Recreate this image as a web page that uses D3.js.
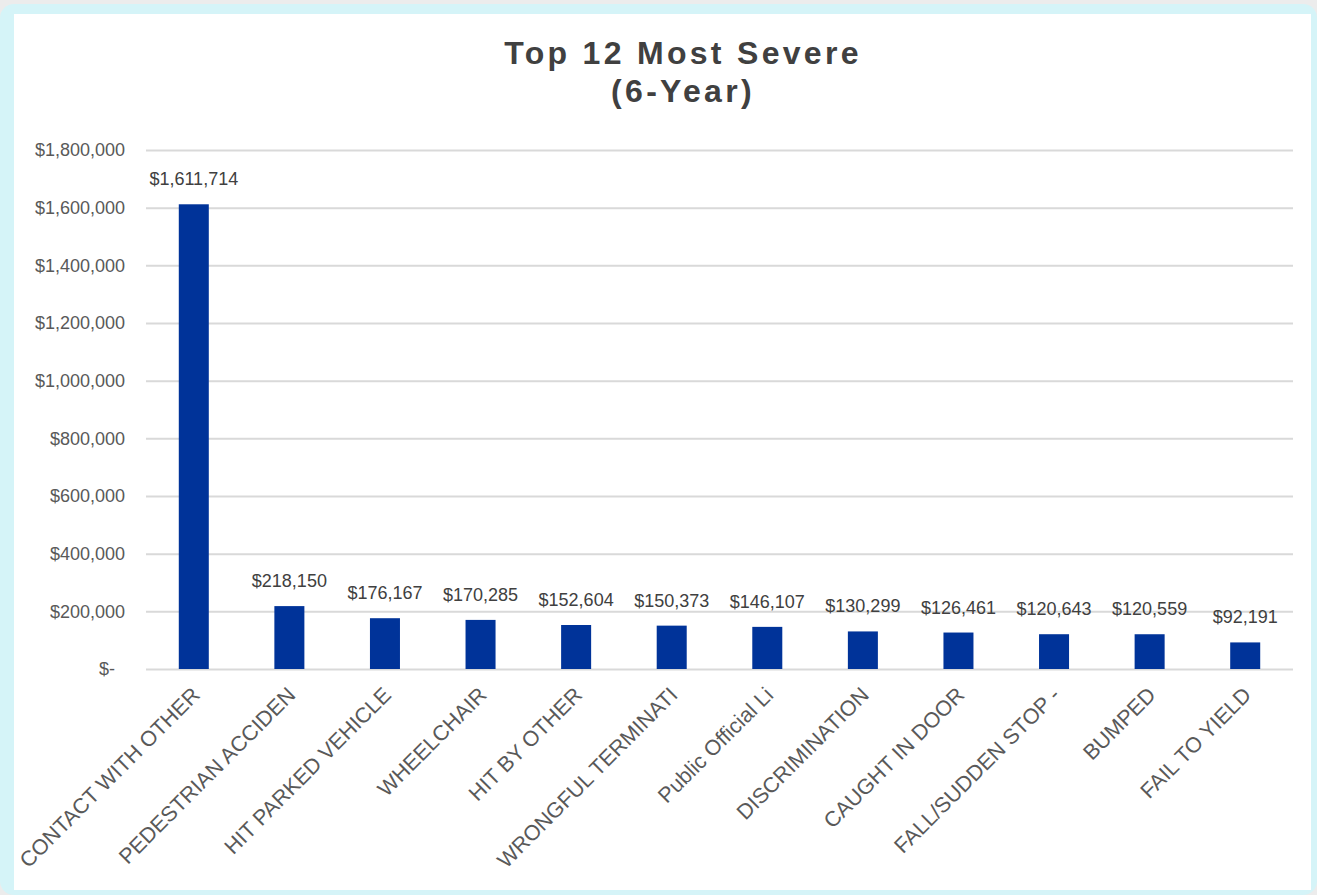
<!DOCTYPE html>
<html>
<head>
  <title>Top 12 Most Severe (6-Year)</title>
  <script src="https://d3js.org/d3.v7.min.js"></script>
  <style>
    body { margin: 0; background: #ececec; }
    svg { display: block; font-family: "Liberation Sans", Arial, sans-serif; }
  </style>
</head>
<body>
  <svg id="chart" width="1317" height="895"></svg>

  <script>
    const categories = [
      "CONTACT WITH OTHER", "PEDESTRIAN ACCIDEN", "HIT PARKED VEHICLE", "WHEELCHAIR",
      "HIT BY OTHER", "WRONGFUL TERMINATI", "Public Official Li", "DISCRIMINATION",
      "CAUGHT IN DOOR", "FALL/SUDDEN STOP -", "BUMPED", "FAIL TO YIELD"
    ];
    const values = [1611714, 218150, 176167, 170285, 152604, 150373, 146107, 130299, 126461, 120643, 120559, 92191];
    const yTicks = [0, 200000, 400000, 600000, 800000, 1000000, 1200000, 1400000, 1600000, 1800000];
    const titleLines = ["Top 12 Most Severe", "(6-Year)"];

    const data = categories.map((c, i) => ({ name: c, value: values[i] }));

    const svg = d3.select("#chart");

    // frame: cyan border round a white panel
    svg.append("rect").attr("x", 0).attr("y", 4).attr("width", 1317).attr("height", 891)
      .attr("rx", 14).attr("fill", "#d5f4f8");
    svg.append("rect").attr("x", 14).attr("y", 14).attr("width", 1297).attr("height", 876)
      .attr("fill", "#ffffff");

    const margin = { top: 150, left: 146, right: 24, bottom: 226 };
    const width = 1317 - margin.left - margin.right;
    const height = 895 - margin.top - margin.bottom;

    const x = d3.scaleBand().domain(categories).range([0, width]).paddingInner(0.686).paddingOuter(0.343);
    const y = d3.scaleLinear().domain([0, 1800000]).range([height, 0]);

    const g = svg.append("g").attr("transform", `translate(${margin.left},${margin.top})`);

    // title
    const title = svg.append("text")
      .attr("text-anchor", "middle")
      .attr("fill", "#404040")
      .style("font-weight", "bold")
      .style("font-size", "32px")
      .style("letter-spacing", "3.3px");
    titleLines.forEach((t, i) => {
      title.append("tspan").attr("x", 683).attr("y", 64 + i * 38).text(t);
    });

    // gridlines + y labels
    const fmt = d3.format(",");
    const yAxis = g.append("g")
      .call(d3.axisLeft(y).tickValues(yTicks).tickSize(-width).tickPadding(21)
        .tickFormat(d => d === 0 ? "$-" : "$" + fmt(d)));
    yAxis.select(".domain").remove();
    yAxis.selectAll(".tick line").attr("stroke", "#d9d9d9").attr("stroke-width", 2);
    yAxis.selectAll(".tick text")
      .attr("fill", "#595959")
      .style("font-size", "18px")
      .style("font-family", "\"Liberation Sans\", Arial, sans-serif")
      .attr("dx", d => d === 0 ? -10 : 0);

    // bars
    g.selectAll("rect.bar")
      .data(data)
      .enter().append("rect")
      .attr("class", "bar")
      .attr("x", d => x(d.name))
      .attr("y", d => y(d.value))
      .attr("width", x.bandwidth())
      .attr("height", d => height - y(d.value))
      .attr("fill", "#003399");

    // value labels
    g.selectAll("text.val")
      .data(data)
      .enter().append("text")
      .attr("class", "val")
      .attr("x", d => x(d.name) + x.bandwidth() / 2)
      .attr("y", d => y(d.value) - 19)
      .attr("text-anchor", "middle")
      .attr("fill", "#404040")
      .style("font-size", "18px")
      .text(d => "$" + fmt(d.value));

    // category labels, rotated
    g.selectAll("text.cat")
      .data(data)
      .enter().append("text")
      .attr("class", "cat")
      .attr("transform", d => `translate(${x(d.name) + x.bandwidth() / 2 + 2},${height + 22}) rotate(-45)`)
      .attr("text-anchor", "end")
      .attr("dy", "0.35em")
      .attr("fill", "#595959")
      .style("font-size", "21.5px")
      .text(d => d.name);
  </script>
</body>
</html>
